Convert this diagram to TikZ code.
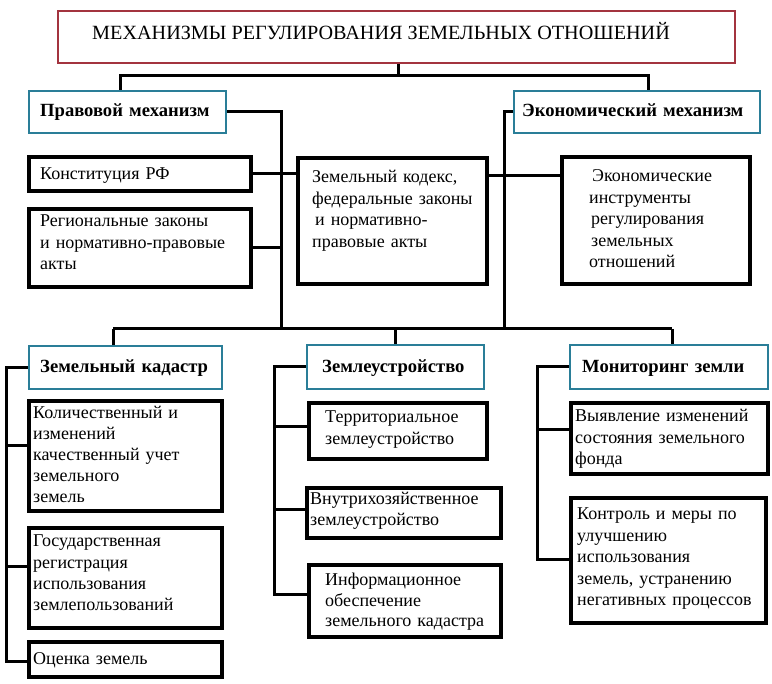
\documentclass[tikz,border=0pt]{standalone}
\usepackage{fontspec}
\setmainfont{Liberation Serif}
\usetikzlibrary{fit}
\definecolor{titlered}{HTML}{A3343F}
\definecolor{headblue}{HTML}{2A7E98}
\tikzset{
  conn/.style={draw=black, line width=3pt},
  blackbox/.style={draw=black, line width=3.2pt, fill=white, inner sep=0pt},
  headbox/.style={draw=headblue, line width=2.6pt, fill=white, inner sep=0pt},
  titlebox/.style={draw=titlered, line width=2.6pt, fill=white, inner sep=0pt},
  txt/.style={anchor=base west, inner sep=0pt, align=left, text width=230pt},
  body/.style={txt, font=\fontsize{18}{21.5}\selectfont},
  headtxt/.style={txt, font=\fontsize{18.6}{21.5}\selectfont\bfseries},
  titletxt/.style={anchor=base west, inner sep=0pt, font=\fontsize{20.2}{22}\selectfont}
}
\begin{document}
\begin{tikzpicture}[x=1pt,y=-1pt]
\useasboundingbox[fill=white] (0,0) rectangle (772,684);

% ---------- boxes ----------
\node[titlebox, fit={(58,11) (735,63)}] (title) {};
\node[titletxt] (title-t) at (92,40) {МЕХАНИЗМЫ РЕГУЛИРОВАНИЯ ЗЕМЕЛЬНЫХ ОТНОШЕНИЙ};

\node[headbox, fit={(29,91) (226,133)}] (prav) {};
\node[headtxt] (prav-t) at (40,117) {Правовой механизм};
\node[headbox, fit={(514,91) (760,133)}] (econ) {};
\node[headtxt] (econ-t) at (522,117) {Экономический механизм};

\node[blackbox, fit={(29,157) (251,191)}] (konst) {};
\node[body] (konst-t) at (40,180) {Конституция РФ};
\node[blackbox, fit={(29,209) (251,287)}] (region) {};
\node[body] (region-t) at (40,227) {Региональные законы\\и нормативно-правовые\\акты};

\node[blackbox, fit={(298,158) (487,284)}] (zk) {};
\node[body] (zk-t) at (312,183) {Земельный кодекс,\\федеральные законы\\\hspace*{3pt}и нормативно-\\правовые акты};

\node[blackbox, fit={(562,157) (750,284)}] (econinst) {};
\node[body] (econinst-t) at (589,182) {\hspace*{3pt}Экономические\\инструменты\\\hspace*{2pt}регулирования\\\hspace*{2pt}земельных\\отношений};

\node[headbox, fit={(29,346) (222,389)}] (kadastr) {};
\node[headtxt] (kadastr-t) at (40,373) {Земельный кадастр};
\node[blackbox, fit={(29,401) (222,511)}] (kad1) {};
\node[body, font=\fontsize{18}{20.8}\selectfont] (kad1-t) at (33,419) {Количественный и\\изменений\\качественный учет\\земельного\\земель};
\node[blackbox, fit={(29,528) (222,628)}] (kad2) {};
\node[body, font=\fontsize{18}{21.3}\selectfont] (kad2-t) at (33,547) {Государственная\\регистрация\\использования\\землепользований};
\node[blackbox, fit={(29,642) (222,677)}] (kad3) {};
\node[body] (kad3-t) at (33,664) {Оценка земель};

\node[headbox, fit={(307,345) (484,389)}] (zemle) {};
\node[headtxt] (zemle-t) at (322,373) {Землеустройство};
\node[blackbox, fit={(309,403) (487,459)}] (z1) {};
\node[body, font=\fontsize{18}{22}\selectfont] (z1-t) at (325,423) {Территориальное\\землеустройство};
\node[blackbox, fit={(307,488) (501,538)}] (z2) {};
\node[body, font=\fontsize{18}{20.5}\selectfont] (z2-t) at (310,505) {Внутрихозяйственное\\землеустройство};
\node[blackbox, fit={(309,565) (501,637)}] (z3) {};
\node[body, font=\fontsize{18}{20.5}\selectfont] (z3-t) at (325,586) {Информационное\\обеспечение\\земельного кадастра};

\node[headbox, fit={(570,345) (768,389)}] (monit) {};
\node[headtxt] (monit-t) at (582,373) {Мониторинг земли};
\node[blackbox, fit={(571,403) (768,474)}] (m1) {};
\node[body] (m1-t) at (575,422) {Выявление изменений\\состояния земельного\\фонда};
\node[blackbox, fit={(571,498) (766,623)}] (m2) {};
\node[body] (m2-t) at (577,520) {Контроль и меры по\\улучшению\\использования\\земель, устранению\\негативных процессов};

% ---------- junction points ----------
\coordinate (tj) at (398,76);
\coordinate (pj) at (120,76);
\coordinate (ej) at (648,76);
\coordinate (lb) at (281,329);
\coordinate (rb) at (504,329);
\coordinate (zr) at (504,176);
\coordinate (bl) at (113,329);
\coordinate (bm) at (395,329);
\coordinate (br) at (672,329);
\coordinate (k1) at (6,446);
\coordinate (k2) at (6,567);
\coordinate (ks) at (6,662);
\coordinate (zs1) at (274,427);
\coordinate (zs2) at (274,510);
\coordinate (zs3) at (274,595);
\coordinate (ms1) at (537,430);
\coordinate (ms) at (537,560);

% ---------- connectors ----------
\draw[conn] (title.south -| tj) -- (tj);
\draw[conn] (prav.north -| pj) -- (pj) -- (ej) -- (econ.north -| ej);
\draw[conn] (prav.east) -| (lb);
\draw[conn] (konst.east) -- (zk.west |- konst.east);
\draw[conn] (region.east) -- (region.east -| lb);
\draw[conn] (econ.west) -| (rb);
\draw[conn] (zk.east |- zr) -- (econinst.west |- zr);
\draw[conn] (bl) -- (br);
\draw[conn] (bl) -- (kadastr.north -| bl);
\draw[conn] (bm) -- (zemle.north -| bm);
\draw[conn] (br) -- (monit.north -| br);
\draw[conn] (kadastr.west) -| (ks) -- (kad3.west |- ks);
\draw[conn] (k1) -- (kad1.west |- k1);
\draw[conn] (k2) -- (kad2.west |- k2);
\draw[conn] (zemle.west) -| (zs3) -- (z3.west |- zs3);
\draw[conn] (zs1) -- (z1.west |- zs1);
\draw[conn] (zs2) -- (z2.west |- zs2);
\draw[conn] (monit.west) -| (ms) -- (m2.west |- ms);
\draw[conn] (ms1) -- (m1.west |- ms1);
\end{tikzpicture}
\end{document}
